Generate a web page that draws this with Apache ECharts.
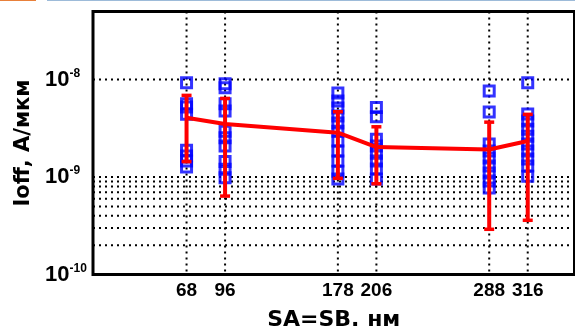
<!DOCTYPE html>
<html>
<head>
<meta charset="utf-8">
<script src="https://cdn.jsdelivr.net/npm/echarts@6/dist/echarts.min.js"></script>
<style>html,body{margin:0;padding:0;background:#fff}#c{width:575px;height:329px}</style>
</head>
<body>
<div id="c"></div>
<script>
// x positions (nm)
const xValues = [68, 96, 178, 206, 288, 316];
// red curve: mean, upper and lower whisker (A/um)
const meanValues  = [4.06e-9, 3.5e-9, 2.85e-9, 2.03e-9, 1.92e-9, 2.34e-9];
const upperValues = [6.89e-9, 6.41e-9, 4.68e-9, 3.28e-9, 3.66e-9, 4.40e-9];
const lowerValues = [1.44e-9, 6.38e-10, 9.70e-10, 8.53e-10, 2.91e-10, 3.60e-10];
// blue squares (individual samples) per x position
const samples68  = [9.27e-9, 5.65e-9, 5.22e-9, 4.4e-9, 1.88e-9, 1.64e-9, 1.46e-9, 1.27e-9];
const samples96  = [9.06e-9, 8.24e-9, 5.65e-9, 4.75e-9, 2.96e-9, 2.53e-9, 2.08e-9, 1.44e-9, 1.20e-9, 9.84e-10];
const samples178 = [7.27e-9, 6.02e-9, 5.10e-9, 4.22e-9, 3.58e-9, 2.96e-9, 2.34e-9, 1.85e-9, 1.46e-9, 1.15e-9, 9.53e-10];
const samples206 = [5.16e-9, 4.15e-9, 2.45e-9, 2.08e-9, 1.76e-9, 1.46e-9, 1.21e-9, 9.53e-10];
const samples288 = [7.62e-9, 4.64e-9, 2.18e-9, 1.85e-9, 1.57e-9, 1.30e-9, 1.10e-9, 9.10e-10, 7.71e-10];
const samples316 = [9.27e-9, 4.43e-9, 3.75e-9, 3.10e-9, 2.63e-9, 2.18e-9, 1.85e-9, 1.53e-9, 1.30e-9, 1.02e-9];
// axis ticks and grid
const yTicks = [1e-10, 1e-9, 1e-8];
const yMajorGrid = [1e-9, 1e-8];
const yMinorGrid = [2e-10, 3e-10, 4e-10, 5e-10, 6e-10, 7e-10, 8e-10, 9e-10];
const xTitle = 'SA=SB. нм';
const yTitle = 'Ioff, А/мкм';

const allSamples = [samples68, samples96, samples178, samples206, samples288, samples316];
const scatterData = [];
allSamples.forEach((arr, i) => arr.forEach(v => scatterData.push([xValues[i], v])));
const meanData = xValues.map((x, i) => [x, meanValues[i]]);
const errData = xValues.map((x, i) => [x, lowerValues[i], upperValues[i]]);
const vGridData = xValues.map(x => [x, 1e-9]);
const hGridData = yMajorGrid.concat(yMinorGrid).map(y => [100, y]);

const gridLineStyle = {stroke: '#000', lineWidth: 2, lineDash: [2, 4]};

const chart = echarts.init(document.getElementById('c'), null, {renderer: 'canvas'});
chart.setOption({
  animation: false,
  backgroundColor: '#fff',
  graphic: [
    {type: 'rect', shape: {x: 0, y: 0, width: 36, height: 1}, style: {fill: '#e8803a'}},
    {type: 'rect', shape: {x: 47, y: 0, width: 528, height: 1}, style: {fill: '#9dbbd9'}}
  ],
  grid: {left: 93, top: 11.5, right: 0.5, bottom: 54.5, outerBoundsMode: 'none', containLabel: false,
         show: true, borderColor: '#000', borderWidth: 3, backgroundColor: 'transparent'},
  xAxis: {
    type: 'value', min: 0, max: 350,
    name: xTitle, nameLocation: 'middle', nameGap: 35,
    nameTextStyle: {fontFamily: 'DejaVu Sans', fontWeight: 'bold', fontSize: 22, color: '#000'},
    axisLine: {show: false}, axisTick: {show: false}, splitLine: {show: false},
    axisLabel: {customValues: xValues, margin: 7, color: '#000', fontFamily: 'Liberation Sans Narrow, Liberation Sans', fontWeight: 'bold', fontSize: 19}
  },
  yAxis: {
    type: 'log', logBase: 10, min: 1e-10, max: 5e-8,
    name: yTitle, nameLocation: 'middle', nameGap: 58,
    nameTextStyle: {fontFamily: 'DejaVu Sans', fontWeight: 'bold', fontSize: 21, color: '#000'},
    axisLine: {show: false}, axisTick: {show: false}, splitLine: {show: false},
    axisLabel: {
      customValues: yTicks, margin: 48, align: 'left',
      formatter: v => '{b|10}{s|' + Math.round(Math.log10(v)) + '}',
      rich: {
        b: {fontFamily: 'Liberation Sans Narrow, Liberation Sans', fontWeight: 'bold', fontSize: 22, color: '#000'},
        s: {fontFamily: 'Liberation Sans Narrow, Liberation Sans', fontWeight: 'bold', fontSize: 12, color: '#000', padding: [0, 0, 12, 0]}
      }
    }
  },
  series: [
    {
      type: 'custom', z: 1, silent: true, data: vGridData,
      renderItem: (params, api) => {
        const cs = params.coordSys;
        const px = api.coord([api.value(0), api.value(1)])[0];
        return {type: 'line', shape: {x1: px, y1: cs.y, x2: px, y2: cs.y + cs.height}, style: gridLineStyle};
      }
    },
    {
      type: 'custom', z: 1, silent: true, data: hGridData,
      renderItem: (params, api) => {
        const cs = params.coordSys;
        const py = api.coord([api.value(0), api.value(1)])[1];
        return {type: 'line', shape: {x1: cs.x, y1: py, x2: cs.x + cs.width, y2: py}, style: gridLineStyle};
      }
    },
    {
      type: 'scatter', data: scatterData, z: 2,
      symbol: 'rect', symbolSize: 10,
      itemStyle: {color: 'transparent', borderColor: '#0000ff', borderWidth: 3}
    },
    {
      type: 'line', data: meanData, z: 3, symbol: 'none',
      lineStyle: {color: '#ff0000', width: 4}
    },
    {
      type: 'custom', z: 4, data: errData,
      renderItem: (params, api) => {
        const x = api.value(0);
        const lo = api.coord([x, api.value(1)]);
        const hi = api.coord([x, api.value(2)]);
        const hw = 5;
        return {type: 'group', children: [
          {type: 'line', shape: {x1: lo[0], y1: lo[1], x2: hi[0], y2: hi[1]}, style: {stroke: '#ff0000', lineWidth: 4}},
          {type: 'line', shape: {x1: lo[0] - hw, y1: lo[1], x2: lo[0] + hw, y2: lo[1]}, style: {stroke: '#ff0000', lineWidth: 3.5}},
          {type: 'line', shape: {x1: hi[0] - hw, y1: hi[1], x2: hi[0] + hw, y2: hi[1]}, style: {stroke: '#ff0000', lineWidth: 3.5}}
        ]};
      }
    }
  ]
});
</script>
</body>
</html>
